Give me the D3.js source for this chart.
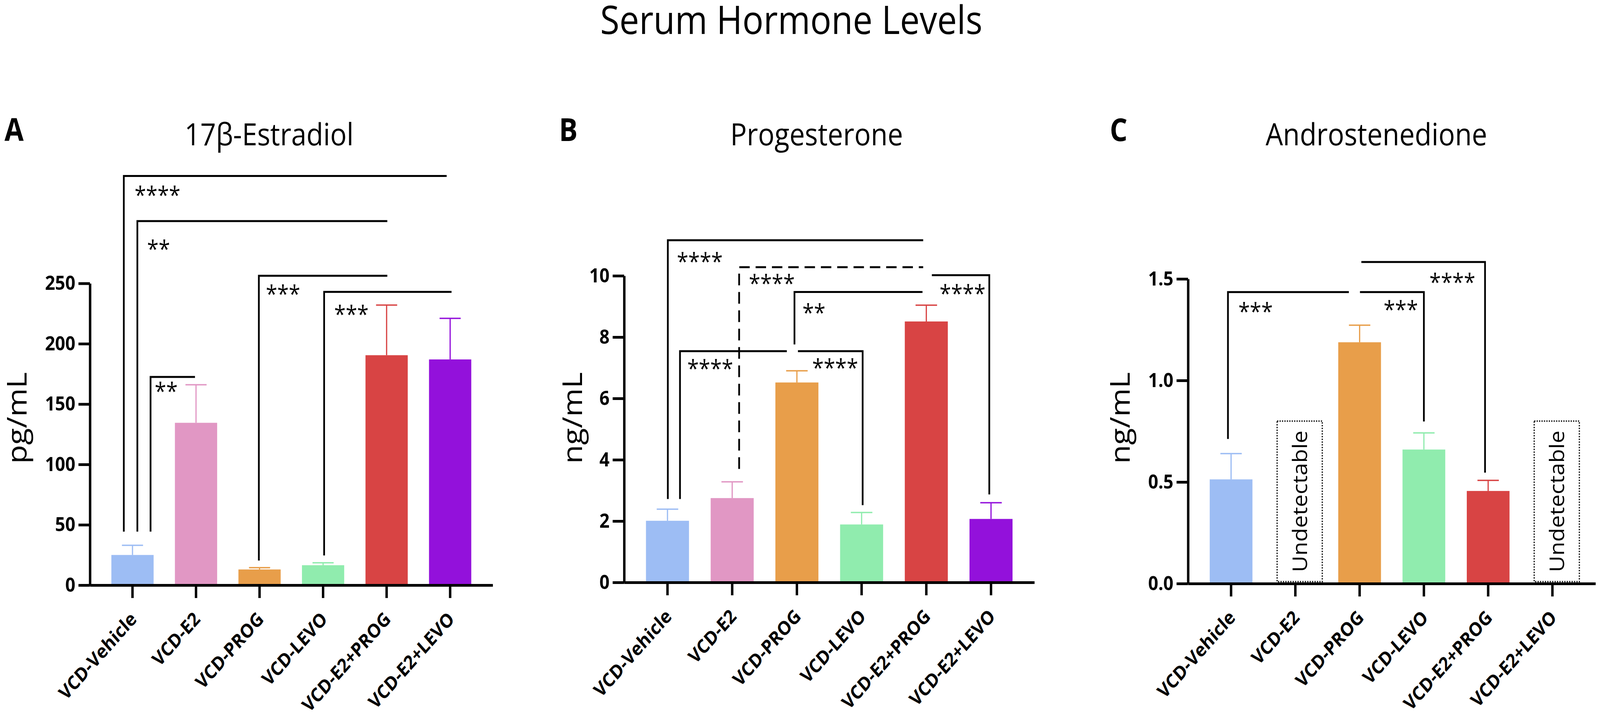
<!DOCTYPE html>
<html>
<head>
<meta charset="utf-8">
<script src="https://cdn.jsdelivr.net/npm/d3@7"></script>
<style>
  html, body { margin: 0; padding: 0; width: 100%; height: 100%; overflow: hidden; background: #fff; }
  #chart { width: 100%; height: 100%; }
  svg { display: block; font-family: "Open Sans", "Lato", sans-serif; }
</style>
</head>
<body>
<div id="chart"></div>
<script>
// Groups and colours (same for all three panels)
var groups = ["VCD-Vehicle", "VCD-E2", "VCD-PROG", "VCD-LEVO", "VCD-E2+PROG", "VCD-E2+LEVO"];
var groupColors = ["#9dbdf4", "#e197c4", "#e89e4a", "#90ecae", "#d84444", "#9311db"];

// A: 17b-Estradiol (pg/mL), mean and SEM
var estradiolMean = [25, 134.5, 13, 16.5, 190.5, 187];
var estradiolSem = [8, 31.5, 1.5, 2, 41.5, 34];
var estradiolTicks = [0, 50, 100, 150, 200, 250];

// B: Progesterone (ng/mL)
var progesteroneMean = [2.01, 2.75, 6.52, 1.89, 8.51, 2.07];
var progesteroneSem = [0.38, 0.53, 0.38, 0.39, 0.53, 0.53];
var progesteroneTicks = [0, 2, 4, 6, 8, 10];

// C: Androstenedione (ng/mL), null = undetectable
var androMean = [0.513, null, 1.188, 0.66, 0.456, null];
var androSem = [0.127, null, 0.084, 0.082, 0.052, null];
var androTicks = [0, 0.5, 1.0, 1.5];
var undetectableLevel = 0.8;

// Significance brackets: a = group with the vertical drop, b = other end,
// level = height of the bar line, drop = where the vertical stops (data units)
var estradiolSig = [
  {a: 0, b: 5, side: "L", level: 339, drop: 44.3, da: -25, db: -10, stars: "****", lx: 31, ly: 38},
  {a: 0, b: 4, side: "L", level: 301.6, drop: 44.3, da: 14, db: 2, stars: "**", lx: 28, ly: 60},
  {a: 0, b: 1, side: "L", level: 172.5, drop: 44.3, da: 52, db: -3, stars: "**", lx: 12, ly: 25},
  {a: 2, b: 4, side: "L", level: 256.3, drop: 20.4, da: -2, db: 2, stars: "***", lx: 20, ly: 35},
  {a: 3, b: 5, side: "L", level: 243, drop: 24.6, da: 3, db: 4, stars: "***", lx: 29, ly: 46}
];
var progesteroneSig = [
  {a: 0, b: 4, side: "L", level: 11.16, drop: 2.72, da: 1, db: -9, stars: "****", lx: 26, ly: 43},
  {a: 1, b: 4, side: "L", level: 10.28, drop: 3.70, da: 20, db: -9, stars: "****", lx: 28, ly: 30, dashed: true},
  {a: 2, b: 4, side: "L", level: 9.47, drop: 7.76, da: -7, db: -11, stars: "**", lx: 23, ly: 41},
  {a: 0, b: 2, side: "L", level: 7.54, drop: 2.72, da: 36, db: -29, stars: "****", lx: 21, ly: 33},
  {a: 3, b: 2, side: "R", level: 7.54, drop: 2.52, da: 3, db: 3, stars: "****", lx: 13, ly: 31},
  {a: 5, b: 4, side: "R", level: 10.02, drop: 2.87, da: -5, db: 16, stars: "****", lx: 11, ly: 36}
];
var androSig = [
  {a: 0, b: 2, side: "L", level: 1.435, drop: 0.712, da: -9, db: -31, stars: "***", lx: 30, ly: 38},
  {a: 3, b: 2, side: "R", level: 1.435, drop: 0.798, da: 0, db: 1, stars: "***", lx: 17, ly: 33},
  {a: 4, b: 2, side: "R", level: 1.583, drop: 0.546, da: -9, db: 5, stars: "****", lx: 28, ly: 40}
];

var width = 4608, height = 1833;

var panels = [
  {letter: "A", title: "17\u03b2-Estradiol", unit: "pg/mL", mean: estradiolMean, sem: estradiolSem,
   ticks: estradiolTicks, fmt: d3.format("d"), sig: estradiolSig,
   x0: 259, x1: 1419, yBase: 1498, yTop: 725.5, titleX: 775, letterX: 13, unitX: 76},
  {letter: "B", title: "Progesterone", unit: "ng/mL", mean: progesteroneMean, sem: progesteroneSem,
   ticks: progesteroneTicks, fmt: d3.format("d"), sig: progesteroneSig,
   x0: 1797.5, x1: 2979, yBase: 1491, yTop: 706, titleX: 2352, letterX: 1610, unitX: 1676},
  {letter: "C", title: "Androstenedione", unit: "ng/mL", mean: androMean, sem: androSem,
   ticks: androTicks, fmt: d3.format(".1f"), sig: androSig,
   x0: 3421.5, x1: 4595, yBase: 1494, yTop: 714, titleX: 3964, letterX: 3196, unitX: 3253}
];

// The drawing is laid out in a 4608x1833 frame and stretched onto the window
var svg = d3.select("#chart").append("svg")
    .attr("width", "100%")
    .attr("height", "100%")
    .attr("viewBox", "0 0 " + width + " " + height)
    .attr("preserveAspectRatio", "none");

// Main title
svg.append("text")
    .attr("x", 2279)
    .attr("y", 87)
    .attr("text-anchor", "middle")
    .style("font-size", "101px")
    .text("Serum Hormone Levels");

panels.forEach(function(p) {
  var g = svg.append("g").attr("class", "panel");

  var x = d3.scaleBand()
      .domain(d3.range(groups.length))
      .range([p.x0, p.x1])
      .paddingInner(0.335)
      .paddingOuter(0.3375);

  var y = d3.scaleLinear()
      .domain([0, d3.max(p.ticks)])
      .range([p.yBase, p.yTop]);

  function cx(i) { return x(i) + x.bandwidth() / 2; }

  // Panel letter + title
  g.append("text")
      .attr("x", p.letterX)
      .attr("y", 361)
      .style("font-size", "80px")
      .style("font-weight", "bold")
      .text(p.letter);

  g.append("text")
      .attr("x", p.titleX)
      .attr("y", 372)
      .attr("text-anchor", "middle")
      .style("font-size", "79px")
      .text(p.title);

  // Y axis label
  g.append("text")
      .attr("transform", "translate(" + p.unitX + ",1070) rotate(-90)")
      .attr("text-anchor", "middle")
      .style("font-size", "79px")
      .text(p.unit);

  // Bars
  var rows = groups.map(function(name, i) {
    return {i: i, name: name, mean: p.mean[i], sem: p.sem[i], color: groupColors[i]};
  });
  var present = rows.filter(function(d) { return d.mean !== null; });
  var missing = rows.filter(function(d) { return d.mean === null; });

  g.append("g").selectAll(".bar")
      .data(present)
    .enter().append("rect")
      .attr("class", "bar")
      .attr("x", function(d) { return x(d.i); })
      .attr("width", x.bandwidth())
      .attr("y", function(d) { return y(d.mean); })
      .attr("height", function(d) { return y(0) - y(d.mean); })
      .style("fill", function(d) { return d.color; });

  // Error bars (upper only)
  var err = g.append("g").selectAll(".err")
      .data(present)
    .enter().append("g")
      .attr("class", "err")
      .style("stroke", function(d) { return d.color; })
      .style("stroke-width", 3.5);

  err.append("line")
      .attr("x1", function(d) { return cx(d.i); })
      .attr("x2", function(d) { return cx(d.i); })
      .attr("y1", function(d) { return y(d.mean); })
      .attr("y2", function(d) { return y(d.mean + d.sem); });

  err.append("line")
      .attr("x1", function(d) { return cx(d.i) - x.bandwidth() / 4; })
      .attr("x2", function(d) { return cx(d.i) + x.bandwidth() / 4; })
      .attr("y1", function(d) { return y(d.mean + d.sem); })
      .attr("y2", function(d) { return y(d.mean + d.sem); });

  // Undetectable boxes
  var und = g.append("g").selectAll(".und")
      .data(missing)
    .enter().append("g")
      .attr("class", "und");

  und.append("rect")
      .attr("x", function(d) { return x(d.i) + 9; })
      .attr("width", x.bandwidth() + 7)
      .attr("y", y(undetectableLevel))
      .attr("height", y(0) - 5 - y(undetectableLevel))
      .style("fill", "none")
      .style("stroke", "#111")
      .style("stroke-width", 3.5)
      .style("stroke-dasharray", "3.5,3.5");

  und.append("text")
      .attr("transform", function(d) {
        var bx = x(d.i) + 9 + (x.bandwidth() + 7) / 2 + 21;
        var by = (y(undetectableLevel) + y(0) - 5) / 2;
        return "translate(" + bx + "," + by + ") rotate(-90)";
      })
      .attr("text-anchor", "middle")
      .style("font-size", "58px")
      .text("Undetectable");

  // Y axis
  var yAxis = g.append("g")
      .attr("transform", "translate(" + p.x0 + ",0)")
      .call(d3.axisLeft(y).tickValues(p.ticks).tickFormat(p.fmt).tickSize(33).tickSizeOuter(0).tickPadding(9));
  yAxis.select(".domain").attr("stroke-width", 7);
  yAxis.selectAll(".tick line").attr("stroke-width", 7);
  yAxis.selectAll(".tick text")
      .attr("fill", "#000")
      .style("font-family", "\"Open Sans\", sans-serif")
      .style("font-size", "51px")
      .style("font-weight", "bold");

  // X axis
  var xAxis = g.append("g")
      .attr("transform", "translate(0," + p.yBase + ")")
      .call(d3.axisBottom(x).tickFormat(function(i) { return groups[i]; }).tickSize(33).tickSizeOuter(0));
  xAxis.select(".domain").attr("stroke-width", 7);
  xAxis.selectAll(".tick line").attr("stroke-width", 7);
  xAxis.selectAll(".tick text")
      .attr("x", null)
      .attr("y", null)
      .attr("dy", null)
      .attr("transform", "translate(15,90) rotate(-45)")
      .attr("text-anchor", "end")
      .attr("fill", "#000")
      .style("font-family", "\"Open Sans\", sans-serif")
      .style("font-size", "49px")
      .style("font-weight", "bold");

  // Significance brackets
  var sig = g.append("g").selectAll(".sig")
      .data(p.sig)
    .enter().append("g")
      .attr("class", "sig");

  sig.append("path")
      .attr("d", function(d) {
        var vx = cx(d.a) + d.da,
            ex = cx(d.b) + d.db;
        return "M" + vx + "," + y(d.drop) + "V" + y(d.level) + "H" + ex;
      })
      .style("fill", "none")
      .style("stroke", "#000")
      .style("stroke-width", 5)
      .style("stroke-dasharray", function(d) { return d.dashed ? "30,17" : null; });

  sig.append("text")
      .attr("x", function(d) {
        var vx = cx(d.a) + d.da;
        return d.side === "L" ? vx + d.lx : vx - d.lx;
      })
      .attr("y", function(d) { return y(d.level) + d.ly + 33; })
      .attr("text-anchor", function(d) { return d.side === "L" ? "start" : "end"; })
      .style("font-size", "60px")
      .text(function(d) { return d.stars; });
});
</script>
</body>
</html>
